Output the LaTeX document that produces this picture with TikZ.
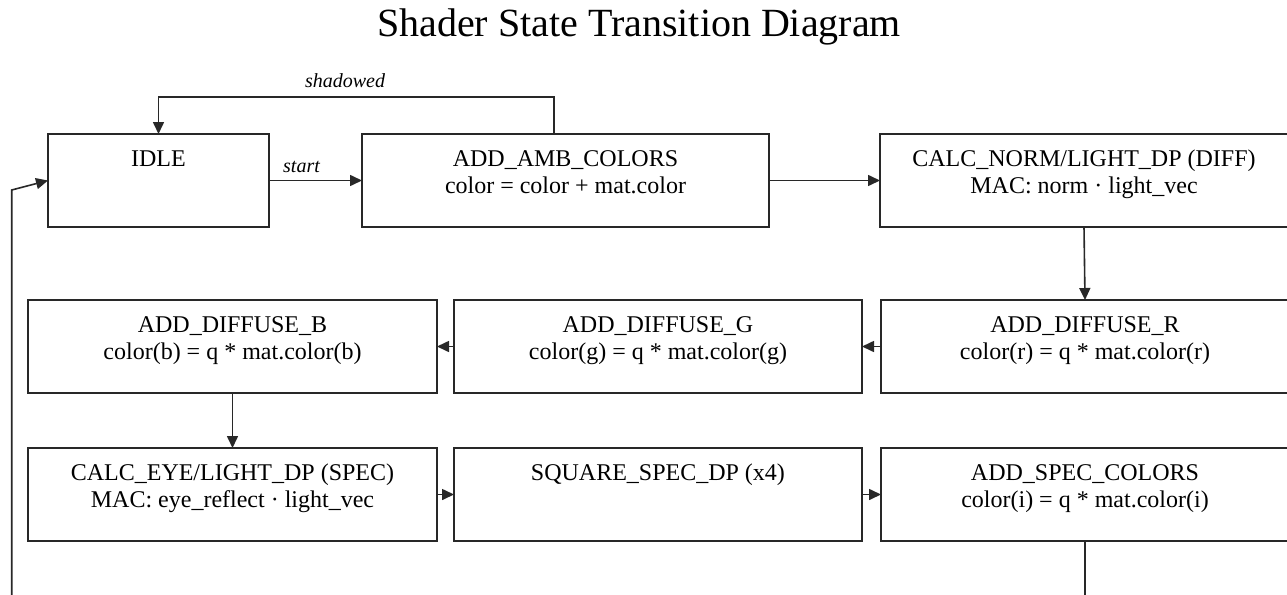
\documentclass[tikz,border=0pt]{standalone}
\usepackage{fontspec}
\setmainfont{Liberation Serif}
\usetikzlibrary{arrows.meta}

\definecolor{linec}{RGB}{40,40,40}

% two-line and one-line state labels, text hung from the top of the box
\newcommand\twolines[3]{\parbox[c][93pt][t]{#1}{\centering\rule{0pt}{32pt}#2\\#3}}
\newcommand\oneline[2]{\parbox[c][93pt][t]{#1}{\centering\rule{0pt}{32pt}#2}}

\tikzset{
  stbox/.style={draw=linec, line width=1.6pt, inner sep=0pt, outer sep=0pt,
    anchor=north west, font=\fontsize{24}{27}\selectfont},
  flow/.style={draw=linec, line width=1.6pt, -{Triangle[length=12pt,width=11pt]}},
  tlabel/.style={font=\fontsize{20}{22}\selectfont\itshape, inner sep=0pt, anchor=base},
}

\begin{document}
\begin{tikzpicture}[x=1pt,y=-1pt]
\useasboundingbox (0,0) rectangle (1287,594);
\clip (0,0) rectangle (1287,594);

\node[font=\fontsize{40}{44}\selectfont, inner sep=0pt, anchor=base] (title) at (639,37)
  {Shader State Transition Diagram};

% row 1
\node[stbox] (idle) at (48,134) {\oneline{221pt}{IDLE}};
\node[stbox] (amb)  at (362,134) {\twolines{407pt}{ADD\_AMB\_COLORS}{color = color + mat.color}};
\node[stbox] (norm) at (880,134) {\twolines{408pt}{CALC\_NORM/LIGHT\_DP (DIFF)}{MAC: norm · light\_vec}};

% row 2
\node[stbox] (difb) at (28,300)  {\twolines{409pt}{ADD\_DIFFUSE\_B}{color(b) = q * mat.color(b)}};
\node[stbox] (difg) at (454,300) {\twolines{408pt}{ADD\_DIFFUSE\_G}{color(g) = q * mat.color(g)}};
\node[stbox] (difr) at (881,300) {\twolines{408pt}{ADD\_DIFFUSE\_R}{color(r) = q * mat.color(r)}};

% row 3
\node[stbox] (eye)  at (28,448)  {\twolines{409pt}{CALC\_EYE/LIGHT\_DP (SPEC)}{MAC: eye\_reflect · light\_vec}};
\node[stbox] (sq)   at (454,448) {\oneline{408pt}{SQUARE\_SPEC\_DP (x4)}};
\node[stbox] (spec) at (881,448) {\twolines{408pt}{ADD\_SPEC\_COLORS}{color(i) = q * mat.color(i)}};

% transitions
\draw[flow] (idle.east) -- (amb.west);
\node[tlabel] (startlbl) at (301.5,172) {start};
\draw[flow] (amb.east) -- (norm.west);
\draw[flow] (norm.south) -- (difr.north);
\draw[flow] (difr.west) -- (difg.east);
\draw[flow] (difg.west) -- (difb.east);
\draw[flow] (difb.south) -- (eye.north);
\draw[flow] (eye.east) -- (sq.west);
\draw[flow] (sq.east) -- (spec.west);

% shadowed: back from ADD_AMB_COLORS to IDLE over the top
\coordinate (shA) at ([xshift=-11.5pt]amb.north);
\coordinate (shB) at (shA |- 0,97);
\coordinate (shC) at (idle.north |- 0,97);
\draw[flow] (shA) -- (shB) -- (shC) -- (idle.north);
\node[tlabel] (shlbl) at (345,88) {shadowed};

% return path from ADD_SPEC_COLORS round the bottom to IDLE
\coordinate (rtA) at (spec.south |- 0,620);
\coordinate (rtB) at (11.7,620);
\coordinate (rtC) at (11.7,190);
\draw[flow] (spec.south) -- (rtA) -- (rtB) -- (rtC) -- (idle.west);
\end{tikzpicture}
\end{document}
